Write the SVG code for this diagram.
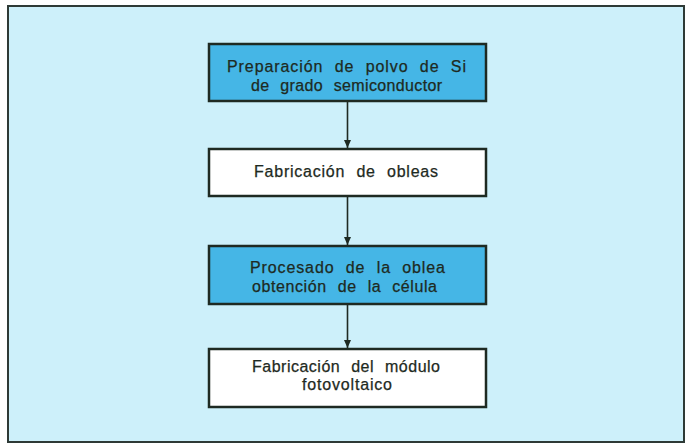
<svg xmlns="http://www.w3.org/2000/svg" width="690" height="444" viewBox="0 0 690 444">
<style>
.box{stroke:#1e2a22;stroke-width:2.5}
.blue{fill:#45b6e6}
.white{fill:#ffffff}
text{font-family:"Liberation Sans","DejaVu Sans",sans-serif;font-size:16px;fill:#1e2a22;word-spacing:6px;stroke:#1e2a22;stroke-width:0.25}
.conn line{stroke:#1e2a22;stroke-width:1.6}
</style>
<defs>
<marker id="ah" viewBox="0 0 8 14" refX="8" refY="7" markerWidth="8" markerHeight="14" markerUnits="userSpaceOnUse" orient="auto">
<path d="M0,3.5 L8,7 L0,10.5 Z" fill="#1e2a22"/>
</marker>
</defs>
<rect x="0" y="0" width="690" height="444" fill="#ffffff"/>
<rect x="8" y="6" width="676" height="436" fill="#cdf0fa" stroke="#2e3a36" stroke-width="2"/>
<g class="conn">
<line x1="347.5" y1="102" x2="347.5" y2="148" marker-end="url(#ah)"/>
<line x1="347.5" y1="197" x2="347.5" y2="245" marker-end="url(#ah)"/>
<line x1="347.5" y1="305" x2="347.5" y2="348" marker-end="url(#ah)"/>
</g>
<g id="n1">
<rect class="box blue" x="209" y="44" width="277" height="57"/>
<text x="227" y="72" textLength="239" lengthAdjust="spacing">Preparación de polvo de Si</text>
<text x="251" y="91" textLength="191" lengthAdjust="spacing">de grado semiconductor</text>
</g>
<g id="n2">
<rect class="box white" x="209" y="149" width="277" height="47"/>
<text x="254" y="177" textLength="184" lengthAdjust="spacing">Fabricación de obleas</text>
</g>
<g id="n3">
<rect class="box blue" x="209" y="246" width="277" height="58"/>
<text x="250" y="273" textLength="195" lengthAdjust="spacing">Procesado de la oblea</text>
<text x="252" y="292" textLength="185" lengthAdjust="spacing">obtención de la célula</text>
</g>
<g id="n4">
<rect class="box white" x="209" y="349" width="277" height="58"/>
<text x="252" y="372" textLength="188" lengthAdjust="spacing">Fabricación del módulo</text>
<text x="302" y="390" textLength="90" lengthAdjust="spacing">fotovoltaico</text>
</g>
</svg>
